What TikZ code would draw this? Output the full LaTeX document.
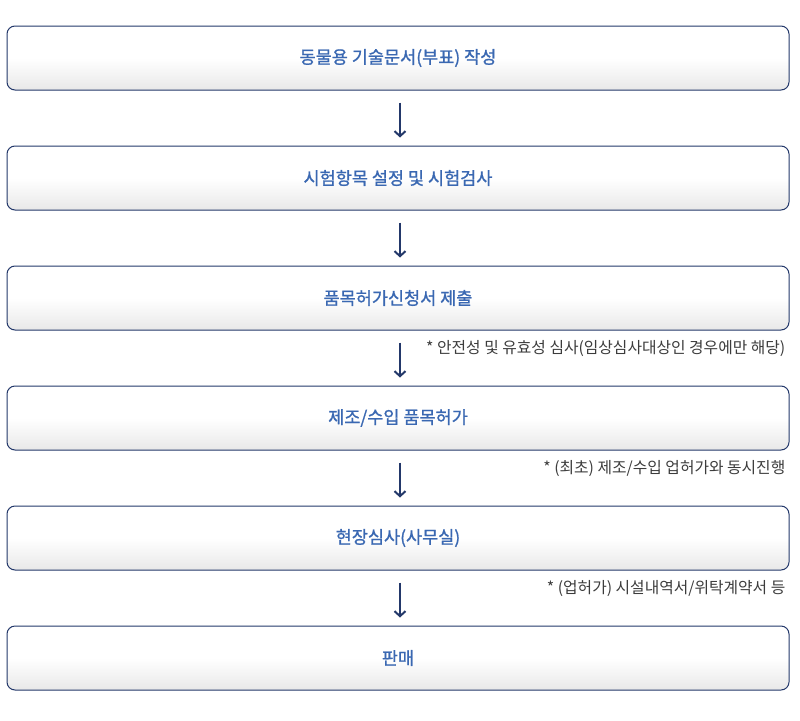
\documentclass[tikz,border=0pt]{standalone}
\usepackage{fontspec}
\newfontfamily\kr{Noto Sans CJK KR}
\newfontfamily\krb[FakeBold=1.1]{Noto Sans CJK KR}
\usetikzlibrary{positioning, arrows.meta}

\definecolor{boxline}{HTML}{23386A}
\definecolor{boxtext}{HTML}{3A68B2}
\definecolor{notetext}{HTML}{3C3C3C}

\tikzset{
  stepbox/.style={draw=boxline, line width=1pt, rounded corners=8pt,
    minimum width=782pt, minimum height=64pt, inner sep=0pt,
    top color=white, bottom color=black!9, middle color=white,
    font=\krb\fontsize{17.5}{20}\selectfont, text=boxtext},
  flow/.style={draw=boxline, line width=2pt, -{Straight Barb[length=5pt,width=11pt]},
    shorten <=12pt, shorten >=8pt},
  note/.style={anchor=east, inner sep=0pt, text=notetext,
    font=\kr\fontsize{15.8}{18}\selectfont}
}

\begin{document}
\begin{tikzpicture}[x=1pt, y=-1pt]
  \useasboundingbox (0,0) rectangle (800,720);
  \node [stepbox] (doc) at (398,58) {동물용 기술문서(부표) 작성};
  \node [stepbox] (test) at (398,178) {시험항목 설정 및 시험검사};
  \node [stepbox] (apply) at (398,298) {품목허가신청서 제출};
  \node [stepbox] (permit) at (398,418) {제조/수입 품목허가};
  \node [stepbox] (site) at (398,538) {현장심사(사무실)};
  \node [stepbox] (sale) at (398,658) {판매};
  \draw [flow] ([xshift=2pt]doc.south) -- ([xshift=2pt]test.north);
  \draw [flow] ([xshift=2pt]test.south) -- ([xshift=2pt]apply.north);
  \draw [flow] ([xshift=2pt]apply.south) -- ([xshift=2pt]permit.north);
  \draw [flow] ([xshift=2pt]permit.south) -- ([xshift=2pt]site.north);
  \draw [flow] ([xshift=2pt]site.south) -- ([xshift=2pt]sale.north);
  \node [note] (noteA) at ([xshift=-4pt, yshift=-18pt]apply.south east) {* 안전성 및 유효성 심사(임상심사대상인 경우에만 해당)};
  \node [note] (noteB) at ([xshift=-4pt, yshift=-18pt]permit.south east) {* (최초) 제조/수입 업허가와 동시진행};
  \node [note] (noteC) at ([xshift=-4pt, yshift=-18pt]site.south east) {* (업허가) 시설내역서/위탁계약서 등};
\end{tikzpicture}
\end{document}
